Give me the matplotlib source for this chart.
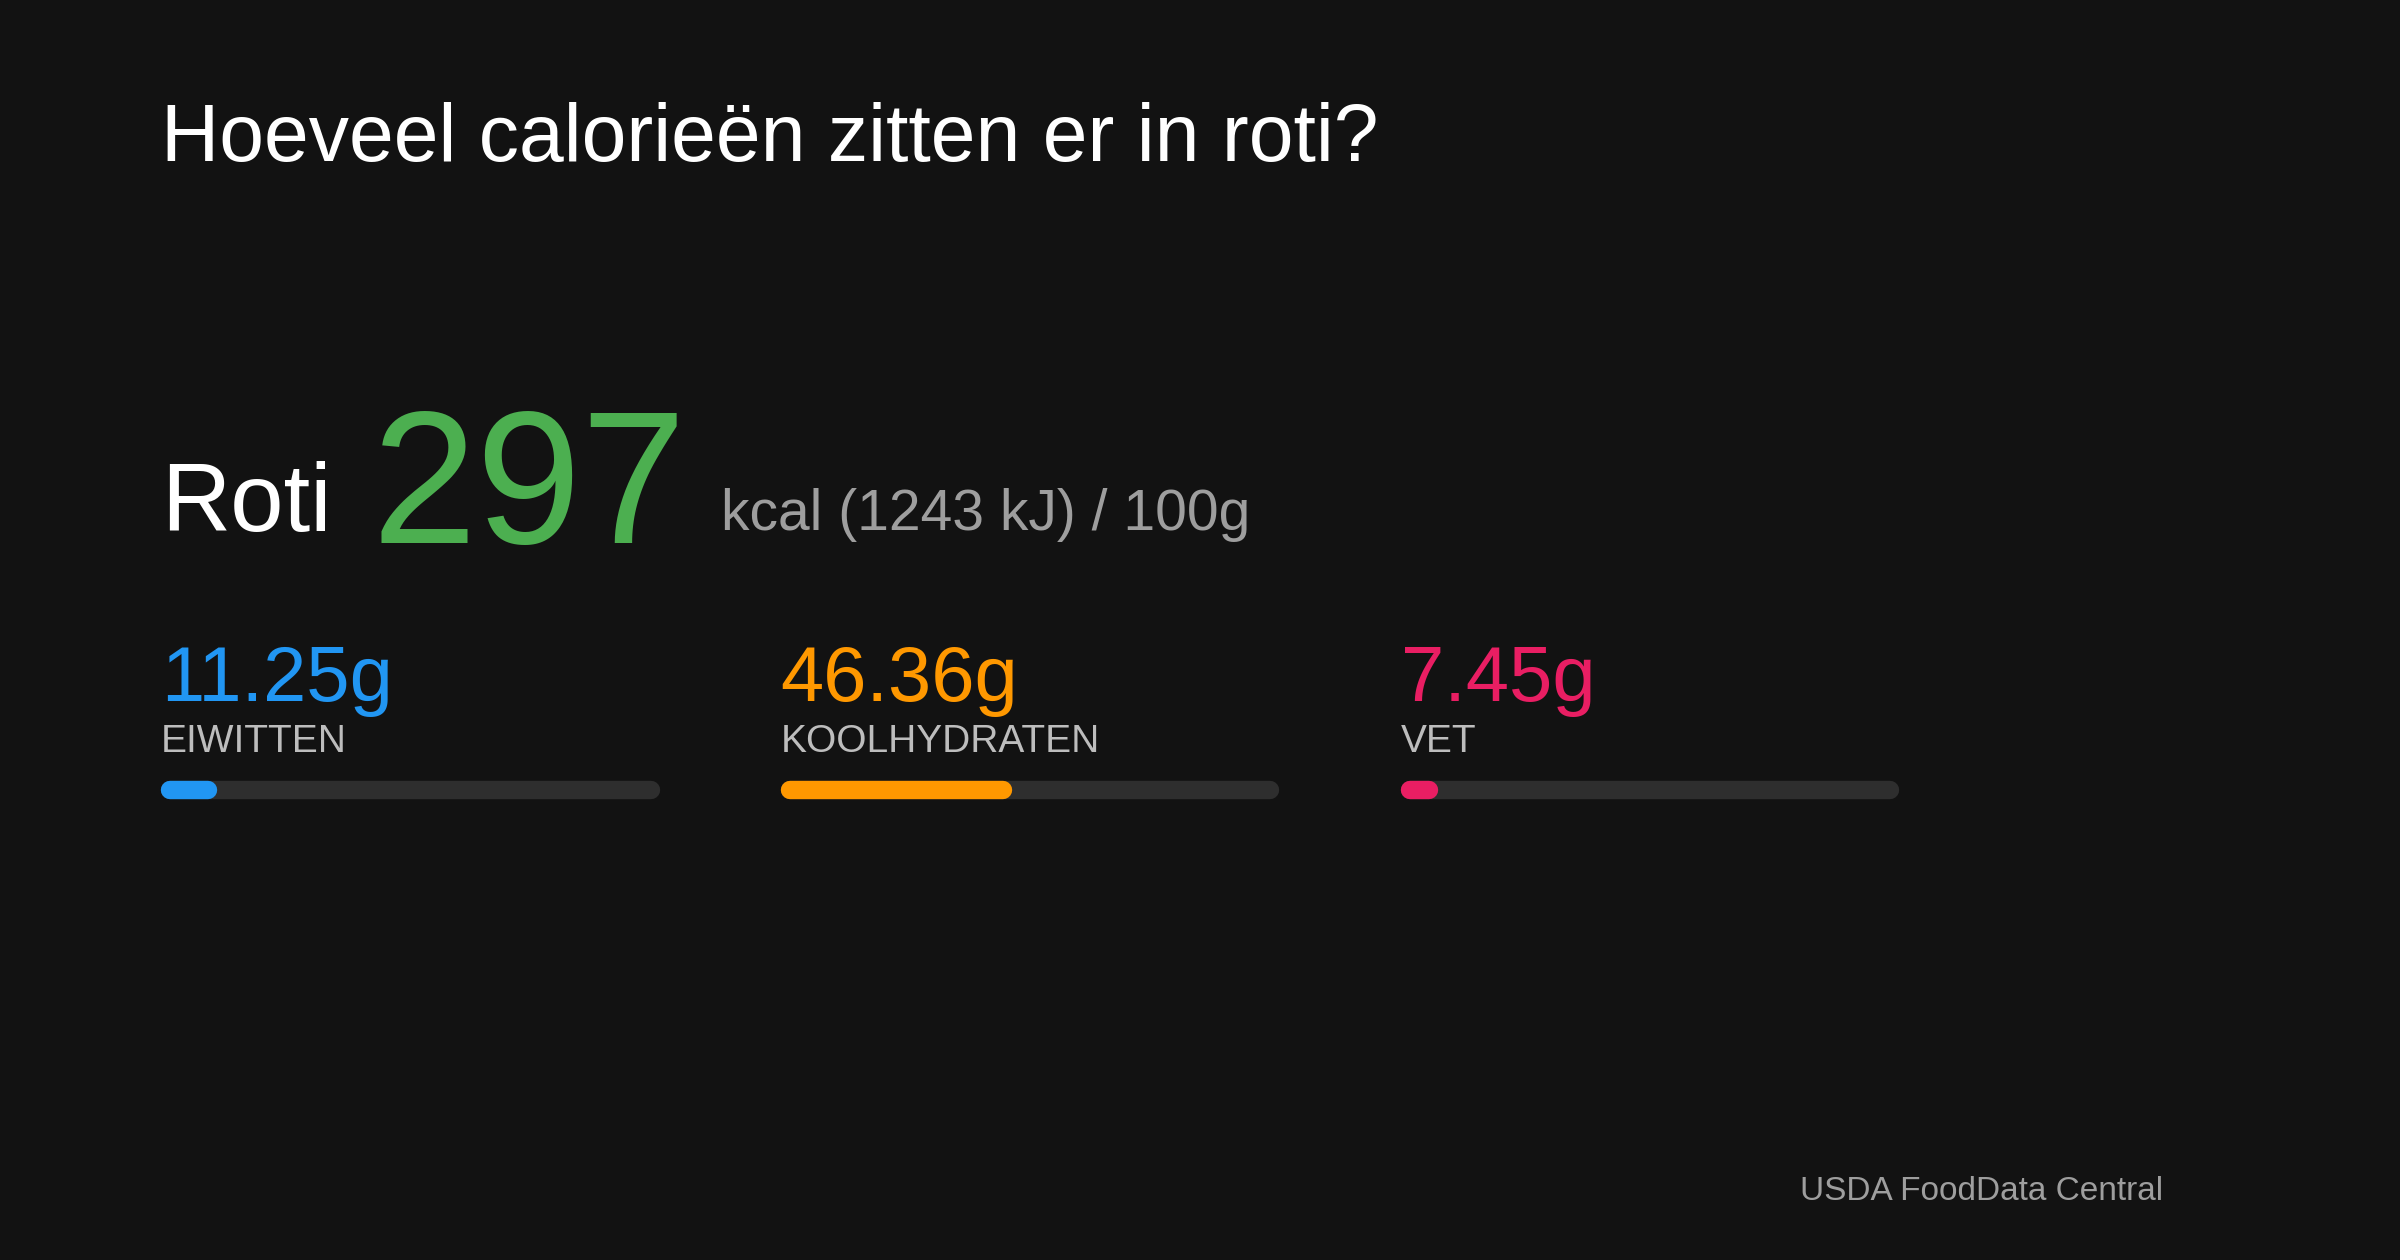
import matplotlib
matplotlib.use("Agg")
import matplotlib.pyplot as plt

title = "Hoeveel calorieën zitten er in roti?"
food = "Roti"
kcal = 297
kj = 1243
macro_names = ["EIWITTEN", "KOOLHYDRATEN", "VET"]
macro_values = [11.25, 46.36, 7.45]
macro_colors = ["#2196f3", "#ff9800", "#e91e63"]
source = "USDA FoodData Central"

W, H = 1568, 823
fig = plt.figure(figsize=(24, 12.6), dpi=100, facecolor="#121212")
ax = fig.add_axes([0, 0, 1, 1])
ax.set_xlim(0, W); ax.set_ylim(H, 0); ax.axis("off")
ax.set_facecolor("#121212")
F = "Liberation Sans"

ax.text(105, 105, title, color="white", fontsize=58, family=F, va="baseline")
ax.text(105, 347, food, color="white", fontsize=69, family=F, va="baseline")
ax.text(243, 355, str(kcal), color="#4caf50", fontsize=136, family=F, va="baseline")
ax.text(471, 346, f"kcal ({kj} kJ) / 100g", color="#9e9e9e", fontsize=41, family=F, va="baseline")

lw = 12 * 2400 / W * 0.72
for i, (n, v, c) in enumerate(zip(macro_names, macro_values, macro_colors)):
    x0 = 105 + i * 405
    ax.text(x0, 458, f"{v:.2f}g", color=c, fontsize=56, family=F, va="baseline")
    ax.text(x0, 491, n, color="#bdbdbd", fontsize=28, family=F, va="baseline")
    ax.plot([x0 + 6, x0 + 326 - 6], [516, 516], color="#2e2e2e", lw=lw, solid_capstyle="round")
    ax.plot([x0 + 6, x0 + 326 * v / 100 - 6], [516, 516], color=c, lw=lw, solid_capstyle="round")

ax.text(1176, 784, source, color="#9e9e9e", fontsize=24, family=F, va="baseline")
fig.savefig("out.png", dpi=100, facecolor="#121212")
